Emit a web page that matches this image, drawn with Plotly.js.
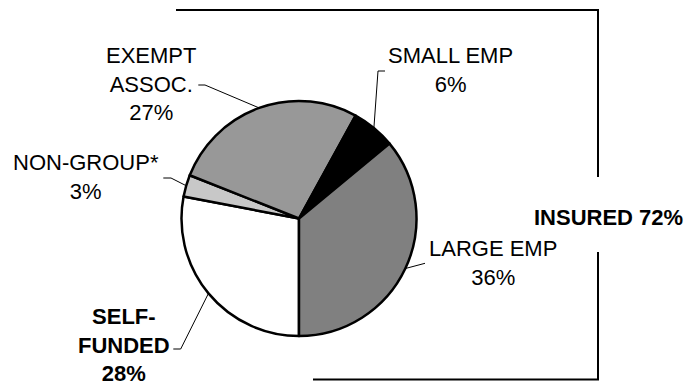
<!DOCTYPE html>
<html>
<head>
<meta charset="utf-8">
<script src="https://cdn.plot.ly/plotly-3.0.1.min.js"></script>
<style>html,body{margin:0;padding:0;background:#fff;}#chart{width:686px;height:387px;}</style>
</head>
<body>
<div id="chart"></div>
<script>
// ---- data ----
const categories = ['SELF-FUNDED', 'NON-GROUP*', 'EXEMPT ASSOC.', 'SMALL EMP', 'LARGE EMP'];
const values = [28, 3, 27, 6, 36];
const labelLines = [['SELF-', 'FUNDED'], ['NON-GROUP*'], ['EXEMPT', 'ASSOC.'], ['SMALL EMP'], ['LARGE EMP']];
const groupName = 'INSURED';
const groupValue = 72;

// ---- styling / layout ----
const W = 686, H = 387;
const colors = ['#ffffff', '#c8c8c8', '#989898', '#000000', '#808080'];
const bold = [true, false, false, false, false];
const cx = 299, cy = 218.5, R = 117.5;
const rotation = 180;
// label centre (x px, y px middle of block) and leader elbow points (px)
const labelPos = [[124, 344.8], [86, 177], [151, 84.4], [450, 70.2], [492.5, 262.7]];
const leaderStart = [[[173.3, 349], [180.7, 349]], [[163.3, 178], [171, 178]], [[198.3, 85], [205, 85]], [[385, 71], [378, 71]], [[425, 263.3]]];

const px = x => x / W, py = y => 1 - y / H;
const font = 'Liberation Sans, Arial, Helvetica, sans-serif';

const total = values.reduce((a, b) => a + b, 0);
let cum = 0;
const annotations = [], shapes = [];
values.forEach((v, i) => {
  const mid = rotation + (cum + v / 2) / total * 360;
  cum += v;
  const th = mid * Math.PI / 180;
  const tip = [cx + R * Math.sin(th), cy - R * Math.cos(th)];
  const pts = leaderStart[i].concat([tip]);
  const path = pts.map((p, k) => (k ? 'L' : 'M') + px(p[0]) + ',' + py(p[1])).join(' ');
  shapes.push({type: 'path', xref: 'paper', yref: 'paper', path: path, line: {color: '#000', width: 1}});
  let txt = labelLines[i].concat([v + '%']).join('<br>');
  if (bold[i]) txt = '<b>' + txt + '</b>';
  annotations.push({
    xref: 'paper', yref: 'paper', x: px(labelPos[i][0]), y: py(labelPos[i][1]),
    xanchor: 'center', yanchor: 'middle', showarrow: false, align: 'center',
    text: txt, font: {family: font, size: 22, color: '#000'}
  });
});
annotations.push({
  xref: 'paper', yref: 'paper', x: px(608), y: py(217.5), xanchor: 'center', yanchor: 'middle',
  showarrow: false, text: '<b>' + groupName + ' ' + groupValue + '%</b>',
  font: {family: font, size: 22, color: '#000'}
});
// bracket around insured group
shapes.push({type: 'path', xref: 'paper', yref: 'paper',
  path: 'M' + px(176) + ',' + py(10) + ' L' + px(598) + ',' + py(10) + ' L' + px(598) + ',' + py(177),
  line: {color: '#000', width: 2}});
shapes.push({type: 'path', xref: 'paper', yref: 'paper',
  path: 'M' + px(598) + ',' + py(252) + ' L' + px(598) + ',' + py(379.5) + ' L' + px(313) + ',' + py(379.5),
  line: {color: '#000', width: 2}});

const trace = {
  type: 'pie', labels: categories, values: values, sort: false, direction: 'clockwise',
  rotation: rotation, textinfo: 'none', hoverinfo: 'none',
  marker: {colors: colors, line: {color: '#000', width: 2.5}},
  domain: {x: [px(cx - R), px(cx + R)], y: [py(cy + R), py(cy - R)]},
  showlegend: false
};

Plotly.newPlot('chart', [trace], {
  width: W, height: H, autosize: false,
  margin: {l: 0, r: 0, t: 0, b: 0},
  paper_bgcolor: '#fff', plot_bgcolor: '#fff',
  showlegend: false, annotations: annotations, shapes: shapes
}, {staticPlot: true});
</script>
</body>
</html>
